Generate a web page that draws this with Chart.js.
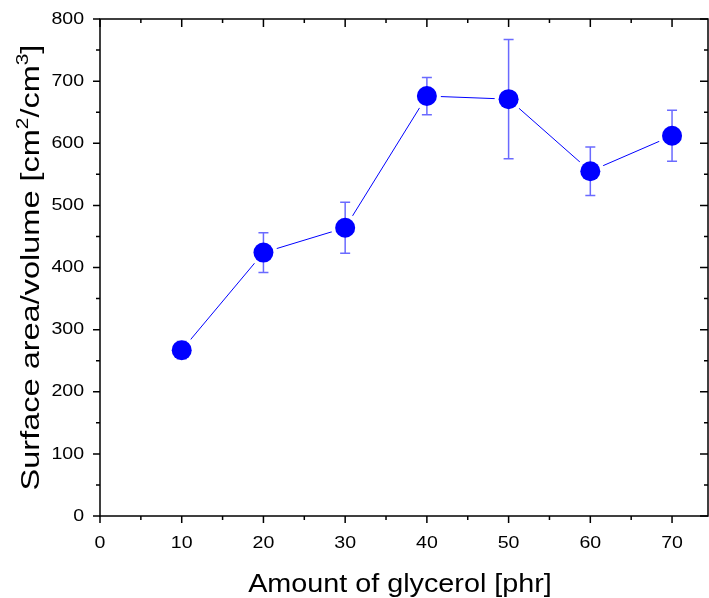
<!DOCTYPE html>
<html>
<head>
<meta charset="utf-8">
<script src="https://cdn.jsdelivr.net/npm/chart.js@4/dist/chart.umd.min.js"></script>
<style>
  html, body { margin: 0; padding: 0; background: #fff; }
  #wrap { width: 709px; height: 598px; }
</style>
</head>
<body>
<div id="wrap"><canvas id="chartCanvas" width="709" height="598"></canvas></div>
<script>
// values
const glycerol = [10, 20, 30, 40, 50, 60, 70];
const surfaceVolume = [267, 424, 464, 676, 671, 555, 612];
const errorBars = [14, 32, 41, 30, 96, 39, 41];

const xMajor = [0, 10, 20, 30, 40, 50, 60, 70];
const xMinor = [5, 15, 25, 35, 45, 55, 65];
const yMajor = [0, 100, 200, 300, 400, 500, 600, 700, 800];
const yMinor = [50, 150, 250, 350, 450, 550, 650, 750];

const xTitle = "Amount of glycerol [phr]";
const yTitleParts = [["Surface area/volume [cm", 0], ["2", 1], ["/cm", 0], ["3", 1], ["]", 0]];

const points = glycerol.map((x, i) => ({ x: x, y: surfaceVolume[i] }));
const fontFamily = '"Liberation Sans", Arial, sans-serif';

// draw text squeezed/stretched along its run direction
function stretchedText(ctx, text, x, y, sx) {
    ctx.save();
    ctx.translate(x, y);
    ctx.scale(sx, 1);
    ctx.fillText(text, 0, 0);
    ctx.restore();
}

const framePlugin = {
    id: 'frame',
    afterDatasetDraw(chart, args) {
        if (args.index !== 1) return;
        const ctx = chart.ctx;
        const xs = chart.scales.x, ys = chart.scales.y;
        ctx.save();
        ctx.strokeStyle = 'rgba(80, 80, 255, 0.85)';
        ctx.lineWidth = 1.5;
        glycerol.forEach((x, i) => {
            const px = xs.getPixelForValue(x);
            const top = ys.getPixelForValue(surfaceVolume[i] + errorBars[i]);
            const bot = ys.getPixelForValue(surfaceVolume[i] - errorBars[i]);
            ctx.beginPath();
            ctx.moveTo(px, top); ctx.lineTo(px, bot);
            ctx.moveTo(px - 5, top); ctx.lineTo(px + 5, top);
            ctx.moveTo(px - 5, bot); ctx.lineTo(px + 5, bot);
            ctx.stroke();
        });
        ctx.restore();
    },
    afterDraw(chart) {
        const ctx = chart.ctx;
        const a = chart.chartArea;
        const xs = chart.scales.x, ys = chart.scales.y;
        ctx.save();
        ctx.strokeStyle = '#000';
        ctx.lineWidth = 1.5;
        ctx.strokeRect(a.left, a.top, a.right - a.left, a.bottom - a.top);

        ctx.beginPath();
        xMajor.forEach(v => {
            const p = xs.getPixelForValue(v);
            ctx.moveTo(p, a.bottom); ctx.lineTo(p, a.bottom + 7);
            ctx.moveTo(p, a.top); ctx.lineTo(p, a.top + 8);
        });
        xMinor.forEach(v => {
            const p = xs.getPixelForValue(v);
            ctx.moveTo(p, a.bottom); ctx.lineTo(p, a.bottom + 4);
            ctx.moveTo(p, a.top); ctx.lineTo(p, a.top + 4);
        });
        yMajor.forEach(v => {
            const p = ys.getPixelForValue(v);
            ctx.moveTo(a.left, p); ctx.lineTo(a.left - 7, p);
            ctx.moveTo(a.right, p); ctx.lineTo(a.right - 8, p);
        });
        yMinor.forEach(v => {
            const p = ys.getPixelForValue(v);
            ctx.moveTo(a.left, p); ctx.lineTo(a.left - 4, p);
            ctx.moveTo(a.right, p); ctx.lineTo(a.right - 4, p);
        });
        ctx.stroke();

        // tick labels
        ctx.fillStyle = '#000';
        ctx.font = '17px ' + fontFamily;
        ctx.textBaseline = 'middle';
        const tsx = 1.15;
        xMajor.forEach(v => {
            const w = ctx.measureText(String(v)).width * tsx;
            stretchedText(ctx, String(v), xs.getPixelForValue(v) - w / 2, 543, tsx);
        });
        yMajor.forEach(v => {
            const w = ctx.measureText(String(v)).width * tsx;
            stretchedText(ctx, String(v), 84 - w, ys.getPixelForValue(v), tsx);
        });

        // axis titles
        ctx.font = '25px ' + fontFamily;
        ctx.textBaseline = 'alphabetic';
        const txs = 1.15;
        const xw = ctx.measureText(xTitle).width * txs;
        stretchedText(ctx, xTitle, 400 - xw / 2, 592, txs);

        ctx.translate(39, (a.top + a.bottom) / 2);
        ctx.rotate(-Math.PI / 2);
        const tys = 1.3;
        ctx.scale(tys, 1);
        const big = '25px ' + fontFamily;
        const small = '16px ' + fontFamily;
        let total = 0;
        yTitleParts.forEach(([t, sup]) => { ctx.font = sup ? small : big; total += ctx.measureText(t).width; });
        let cx = -total / 2;
        yTitleParts.forEach(([t, sup]) => {
            ctx.font = sup ? small : big;
            ctx.fillText(t, cx, sup ? -11 : 0);
            cx += ctx.measureText(t).width;
        });
        ctx.restore();
    }
};

new Chart(document.getElementById('chartCanvas').getContext('2d'), {
    type: 'scatter',
    data: {
        datasets: [
            {
                data: points,
                showLine: false,
                pointRadius: 10,
                pointHoverRadius: 10,
                pointBackgroundColor: '#0000ff',
                pointBorderWidth: 0,
                order: 0
            },
            {
                data: points,
                showLine: false,
                pointRadius: 14,
                pointHoverRadius: 14,
                pointBackgroundColor: '#ffffff',
                pointBorderWidth: 0,
                order: 1
            },
            {
                data: points,
                showLine: true,
                borderColor: '#0000ff',
                borderWidth: 1,
                pointRadius: 0,
                order: 2
            }
        ]
    },
    options: {
        responsive: false,
        animation: false,
        events: [],
        layout: { autoPadding: false, padding: { top: 19, right: 1, left: 0, bottom: 0 } },
        plugins: { legend: { display: false }, tooltip: { enabled: false } },
        scales: {
            x: {
                type: 'linear',
                min: 0,
                max: 74.4,
                grid: { display: false },
                border: { display: false },
                ticks: { display: false, stepSize: 10, includeBounds: false },
                afterFit(scale) { scale.height = 82; }
            },
            y: {
                min: 0,
                max: 800,
                grid: { display: false },
                border: { display: false },
                ticks: { display: false, stepSize: 100 },
                afterFit(scale) { scale.width = 100; }
            }
        }
    },
    plugins: [framePlugin]
});
</script>
</body>
</html>
